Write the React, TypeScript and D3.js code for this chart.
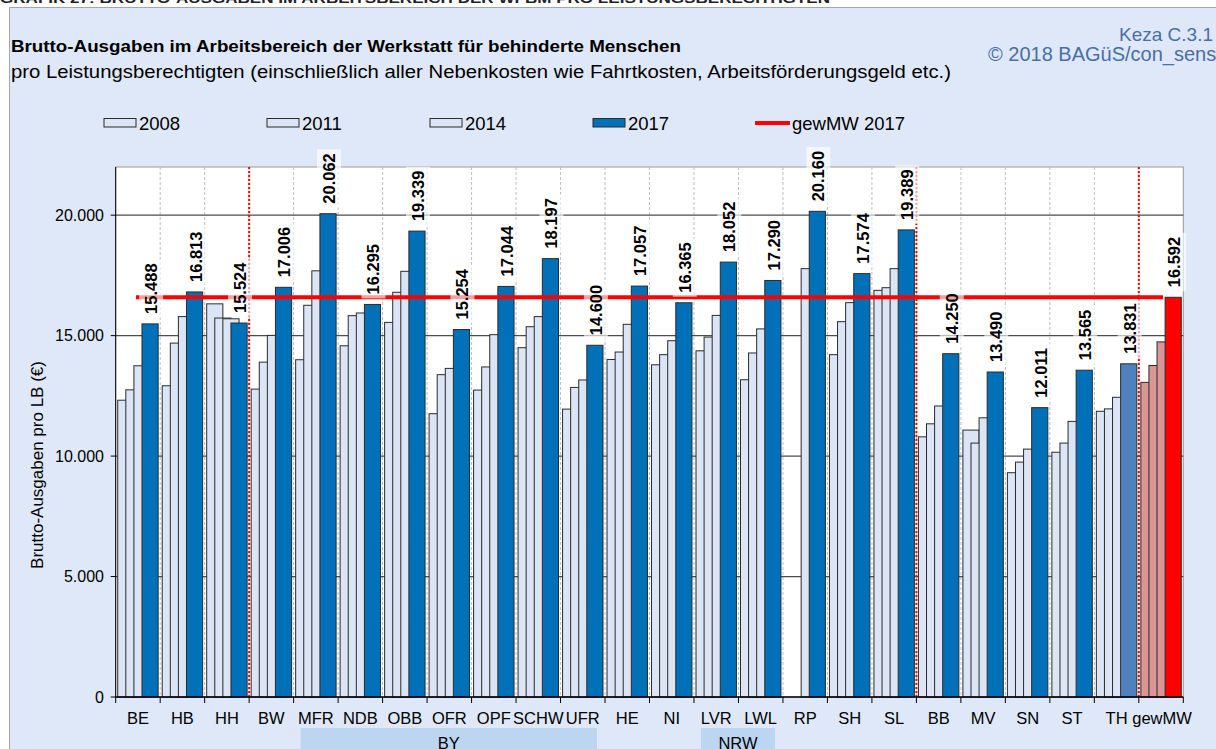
import React from 'react'
import * as d3 from 'd3'

// Kategorien (Träger) und Werte je Jahr
const categories = ['BE', 'HB', 'HH', 'BW', 'MFR', 'NDB', 'OBB', 'OFR', 'OPF', 'SCHW', 'UFR', 'HE', 'NI', 'LVR', 'LWL', 'RP', 'SH', 'SL', 'BB', 'MV', 'SN', 'ST', 'TH', 'gewMW']
const years = ['2008', '2011', '2014', '2017']
const v2008 = [12320, 12920, 16320, 12780, 14000, 14580, 15550, 11760, 12740, 14500, 11950, 14010, 13790, 14370, 13170, null, 14210, 16880, 10800, 11080, 9310, 10160, 11860, 13060]
const v2011 = [12750, 14690, 15730, 13900, 16260, 15830, 16800, 13380, 13700, 15370, 12850, 14320, 14210, 14940, 14280, null, 15580, 16990, 11340, 10540, 9750, 10540, 11960, 13760]
const v2014 = [13750, 15790, 15700, 15010, 17690, 15940, 17670, 13640, 15040, 15790, 13160, 15470, 14790, 15840, 15280, 17780, 16370, 17780, 12080, 11590, 10290, 11440, 12440, 14740]
const v2017 = [15488, 16813, 15524, 17006, 20062, 16295, 19339, 15254, 17044, 18197, 14600, 17057, 16365, 18052, 17290, 20160, 17574, 19389, 14250, 13490, 12011, 13565, 13831, 16592]
const gewMW2017 = 16592
const yTicks = [0, 5000, 10000, 15000, 20000]
// rote Trennlinien nach diesen Kategorien
const separators = [2, 17, 22]
const groups = [
  { label: 'BY', from: 4, to: 10 },
  { label: 'NRW', from: 13, to: 14 },
]

const W = 1216
const H = 749
const FONT = '"Liberation Sans", Arial, sans-serif'
const BG = '#dfe8f8'
const LIGHT = '#dbe5f5'
const BLUE = '#0070b8'

const fmt = (v: number) => d3.format(',')(v).replace(/,/g, '.')

export default function App() {
  const left = 115.7, right = 1183.3, top = 167, bottom = 697
  const x = d3.scaleBand<string>().domain(categories).range([left, right]).padding(0)
  const y = d3.scaleLinear().domain([0, 22000]).range([bottom, top])
  const band = x.bandwidth()
  const bw = band / 2.75
  const step = bw / 2
  const off = (band - 2.5 * bw) / 2
  const series = [v2008, v2011, v2014, v2017]

  const fillFor = (s: number, c: string) => {
    if (c === 'gewMW') return s === 3 ? '#ff0000' : '#d99694'
    if (s === 3) return c === 'TH' ? '#4f81bd' : BLUE
    return LIGHT
  }

  const bars: any[] = []
  series.forEach((vals, s) => {
    categories.forEach((c, i) => {
      const v = vals[i]
      if (v == null) return
      const bx = (x(c) as number) + off + s * step
      bars.push(
        <rect key={years[s] + '-' + c} x={bx} y={y(v)} width={bw} height={bottom - y(v)}
          fill={fillFor(s, c)} stroke="#2b2b2b" strokeWidth={1} />
      )
    })
  })

  const labelFont = 16.5
  const labels = categories.map((c, i) => {
    const v = v2017[i]
    const cx = (x(c) as number) + off + 3 * step + bw / 2 + 1
    const start = y(v) - 10
    const txt = fmt(v)
    const len = labelFont * (5 * 0.556 + 0.278)
    return (
      <g key={'l' + c} transform={`translate(${cx},${start}) rotate(-90)`}>
        <rect x={-4} y={-12} width={len + 8} height={24} fill="#fff" fillOpacity={0.62} />
        <text x={0} y={0} dy="0.36em" fontSize={labelFont} fontWeight="bold" fill="#000">{txt}</text>
      </g>
    )
  })

  const boundaries = d3.range(categories.length + 1).map(i => left + i * band)
  const lineX1 = (x(categories[0]) as number) + band / 2 - 2
  const lineX2 = (x(categories[categories.length - 1]) as number) + band / 2 + 2

  const legend = [
    { label: '2008', x: 104, fill: LIGHT },
    { label: '2011', x: 267, fill: LIGHT },
    { label: '2014', x: 430, fill: LIGHT },
    { label: '2017', x: 593, fill: BLUE },
  ]

  return (
    <svg width={W} height={H} style={{ position: 'absolute', left: 0, top: 0, overflow: 'hidden' }}
      fontFamily={FONT}>
      <rect x={0} y={0} width={W} height={H} fill="#fff" />
      <text x={0} y={3} fontSize={13} fontWeight="bold" fill="#222" textLength={830} lengthAdjust="spacingAndGlyphs">
        GRAFIK 27: BRUTTO-AUSGABEN IM ARBEITSBEREICH DER WFBM PRO LEISTUNGSBERECHTIGTEN
      </text>
      <rect x={9.5} y={7.5} width={1230} height={760} fill={BG} stroke="#a6a6a6" />

      {/* Titel */}
      <text x={11} y={52} fontSize={17} fontWeight="bold" fill="#000" textLength={670} lengthAdjust="spacingAndGlyphs">
        Brutto-Ausgaben im Arbeitsbereich der Werkstatt für behinderte Menschen
      </text>
      <text x={11} y={78} fontSize={17.5} fill="#000" textLength={940} lengthAdjust="spacingAndGlyphs">
        pro Leistungsberechtigten (einschließlich aller Nebenkosten wie Fahrtkosten, Arbeitsförderungsgeld etc.)
      </text>
      <text x={1213} y={41} fontSize={19} fill="#4a6ea8" textAnchor="end">Keza C.3.1</text>
      <text x={988} y={61} fontSize={20} fill="#4a6ea8">© 2018 BAGüS/con_sens</text>

      {/* Legende */}
      {legend.map(l => (
        <g key={l.label}>
          <rect x={l.x} y={118.5} width={32} height={8.5} fill={l.fill} stroke="#2b2b2b" />
          <text x={l.x + 35} y={129.5} fontSize={18.5} fill="#000">{l.label}</text>
        </g>
      ))}
      <line x1={755} x2={790} y1={123} y2={123} stroke="#ff0000" strokeWidth={4} />
      <text x={792} y={129.5} fontSize={18.5} fill="#000">gewMW 2017</text>

      {/* Plotfläche */}
      <rect x={left} y={top} width={right - left} height={bottom - top} fill="#fff" stroke="#999" />
      {boundaries.slice(1, -1).map((bx, i) => (
        <line key={'g' + i} x1={bx} x2={bx} y1={top} y2={bottom} stroke="#bdbdbd" strokeDasharray="3,2" />
      ))}
      {yTicks.slice(1).map(t => (
        <line key={'h' + t} x1={left} x2={right} y1={y(t)} y2={y(t)} stroke="#4d4d4d" strokeWidth={1.2} />
      ))}

      {bars}

      {separators.map(i => (
        <line key={'s' + i} x1={boundaries[i + 1]} x2={boundaries[i + 1]} y1={top} y2={bottom}
          stroke="#ff0000" strokeWidth={2} strokeDasharray="2,2" />
      ))}

      <line x1={lineX1} x2={lineX2} y1={y(gewMW2017)} y2={y(gewMW2017)} stroke="#ff0000" strokeWidth={4} />

      {labels}

      {/* Achsen */}
      <line x1={left} x2={left} y1={top} y2={bottom} stroke="#000" />
      <line x1={left} x2={right} y1={bottom} y2={bottom} stroke="#000" strokeWidth={1.5} />
      {yTicks.map(t => (
        <g key={'yt' + t}>
          <line x1={left - 5} x2={left} y1={y(t)} y2={y(t)} stroke="#000" />
          <text x={104} y={y(t)} dy="0.35em" fontSize={16} textAnchor="end" fill="#000">{fmt(t)}</text>
        </g>
      ))}
      {boundaries.map((bx, i) => (
        <line key={'xt' + i} x1={bx} x2={bx} y1={bottom} y2={bottom + 6} stroke="#000" />
      ))}
      {categories.map(c => (
        <text key={'xl' + c} x={(x(c) as number) + band / 2 + (c === 'gewMW' ? 1 : 0)} y={724}
          fontSize={16.5} textAnchor="middle" fill="#000">{c}</text>
      ))}
      <text transform="translate(37,465) rotate(-90)" fontSize={17} textAnchor="middle" dy="0.35em" fill="#000">
        Brutto-Ausgaben pro LB (€)
      </text>

      {/* Gruppen */}
      {groups.map(g => {
        const gx1 = (x(categories[g.from]) as number) + 7
        const gx2 = (x(categories[g.to]) as number) + band - 8
        return (
          <g key={g.label}>
            <rect x={gx1} y={728} width={gx2 - gx1} height={30} fill="#bcd6f2" />
            <text x={(gx1 + gx2) / 2} y={749} fontSize={16.5} textAnchor="middle" fill="#000">{g.label}</text>
          </g>
        )
      })}
    </svg>
  )
}
